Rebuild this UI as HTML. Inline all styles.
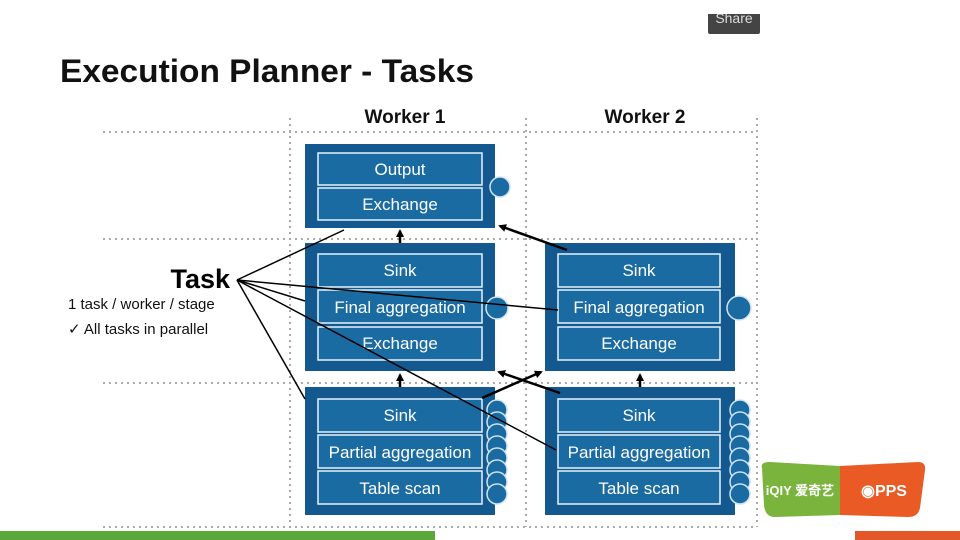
<!DOCTYPE html>
<html><head><style>
body{margin:0;width:960px;height:540px;background:#fff;overflow:hidden;position:relative;font-family:"Liberation Sans",sans-serif}
</style></head><body>
<svg width="960" height="540" style="position:absolute;left:0;top:0" font-family="Liberation Sans, sans-serif">
<defs><marker id="a" markerWidth="8" markerHeight="8" refX="6" refY="4" orient="auto" markerUnits="userSpaceOnUse"><path d="M0,0 L8,4 L0,8 z" fill="#000"/></marker>
<clipPath id="c"><rect x="700" y="14" width="70" height="30"/></clipPath></defs>
<g clip-path="url(#c)">
<rect x="708" y="8" width="52" height="26" rx="2" fill="#444"/>
<text x="734" y="23" font-size="14" fill="#ddd" text-anchor="middle">Share</text>
</g>
<text x="60" y="82" font-size="32" font-weight="bold" fill="#111" textLength="414" lengthAdjust="spacingAndGlyphs">Execution Planner - Tasks</text>
<text x="405" y="123" font-size="19" font-weight="bold" text-anchor="middle" fill="#111">Worker 1</text>
<text x="645" y="123" font-size="19" font-weight="bold" text-anchor="middle" fill="#111">Worker 2</text>
<g stroke="#aaa" stroke-width="2" stroke-dasharray="2,4">
<line x1="103" y1="132" x2="757" y2="132"/><line x1="103" y1="239" x2="757" y2="239"/>
<line x1="103" y1="383" x2="757" y2="383"/><line x1="103" y1="527" x2="757" y2="527"/>
<line x1="290" y1="118" x2="290" y2="527"/><line x1="526" y1="118" x2="526" y2="527"/><line x1="757" y1="118" x2="757" y2="527"/>
</g>
<g fill="#13588e">
<rect x="305" y="144" width="190" height="84"/>
<rect x="305" y="243" width="190" height="128"/><rect x="545" y="243" width="190" height="128"/>
<rect x="305" y="387" width="190" height="128"/><rect x="545" y="387" width="190" height="128"/>
</g>
<g fill="#1b6ba3" stroke="#e8f2fa" stroke-width="1.5">
<rect x="318" y="153" width="164" height="32"/><rect x="318" y="188" width="164" height="32"/>
<rect x="318" y="254" width="164" height="33"/><rect x="318" y="290" width="164" height="33"/><rect x="318" y="327" width="164" height="33"/>
<rect x="558" y="254" width="162" height="33"/><rect x="558" y="290" width="162" height="33"/><rect x="558" y="327" width="162" height="33"/>
<rect x="318" y="399" width="164" height="33"/><rect x="318" y="435" width="164" height="33"/><rect x="318" y="471" width="164" height="33"/>
<rect x="558" y="399" width="162" height="33"/><rect x="558" y="435" width="162" height="33"/><rect x="558" y="471" width="162" height="33"/>
</g>
<g fill="#fff" font-size="17" text-anchor="middle">
<text x="400" y="175">Output</text><text x="400" y="210">Exchange</text>
<text x="400" y="276">Sink</text><text x="400" y="313">Final aggregation</text><text x="400" y="349">Exchange</text>
<text x="639" y="276">Sink</text><text x="639" y="313">Final aggregation</text><text x="639" y="349">Exchange</text>
<text x="400" y="421">Sink</text><text x="400" y="458">Partial aggregation</text><text x="400" y="494">Table scan</text>
<text x="639" y="421">Sink</text><text x="639" y="458">Partial aggregation</text><text x="639" y="494">Table scan</text>
</g>
<g fill="#1b6ba3" stroke="#cfe3f3" stroke-width="1.5">
<circle cx="500" cy="187" r="10"/><circle cx="497" cy="308" r="11"/><circle cx="739" cy="308" r="12"/>
<circle cx="497" cy="410" r="10"/><circle cx="497" cy="422" r="10"/><circle cx="497" cy="434" r="10"/><circle cx="497" cy="446" r="10"/><circle cx="497" cy="458" r="10"/><circle cx="497" cy="470" r="10"/><circle cx="497" cy="482" r="10"/><circle cx="497" cy="494" r="10"/>
<circle cx="740" cy="410" r="10"/><circle cx="740" cy="422" r="10"/><circle cx="740" cy="434" r="10"/><circle cx="740" cy="446" r="10"/><circle cx="740" cy="458" r="10"/><circle cx="740" cy="470" r="10"/><circle cx="740" cy="482" r="10"/><circle cx="740" cy="494" r="10"/>
</g>
<g stroke="#000" stroke-width="1.5" fill="none">
<line x1="237" y1="280" x2="344" y2="230"/><line x1="237" y1="280" x2="305" y2="301"/>
<line x1="237" y1="280" x2="558" y2="310"/><line x1="237" y1="280" x2="556" y2="450"/>
<line x1="237" y1="280" x2="305" y2="399"/>
</g>
<g stroke="#000" stroke-width="2.5" marker-end="url(#a)">
<line x1="400" y1="243" x2="400" y2="231"/><line x1="400" y1="387" x2="400" y2="375"/><line x1="640" y1="387" x2="640" y2="375"/>
<line x1="567" y1="250" x2="500" y2="226"/>
<line x1="482" y1="398" x2="541" y2="372"/><line x1="560" y1="393" x2="499" y2="372"/>
</g>
<text x="230" y="288" font-size="27" font-weight="bold" text-anchor="end" fill="#000">Task</text>
<text x="68" y="309" font-size="15" fill="#111">1 task / worker / stage</text>
<text x="68" y="334" font-size="15" fill="#111">✓ All tasks in parallel</text>
<path d="M762,468 Q760,462 770,462 L840,466 L840,515 L775,517 Q765,517 764,505 Z" fill="#7ab43c"/>
<path d="M840,466 L918,462 Q926,462 925,470 L920,508 Q918,517 908,517 L840,515 Z" fill="#ea5a24"/>
<text x="800" y="495" font-size="13" font-weight="bold" fill="#fff" text-anchor="middle">iQIY 爱奇艺</text>
<text x="884" y="496" font-size="16" font-weight="bold" fill="#fff" text-anchor="middle">◉PPS</text>
<rect x="0" y="531" width="435" height="9" fill="#5aa83a"/>
<rect x="855" y="531" width="105" height="9" fill="#e4572a"/>
</svg>
</body></html>
